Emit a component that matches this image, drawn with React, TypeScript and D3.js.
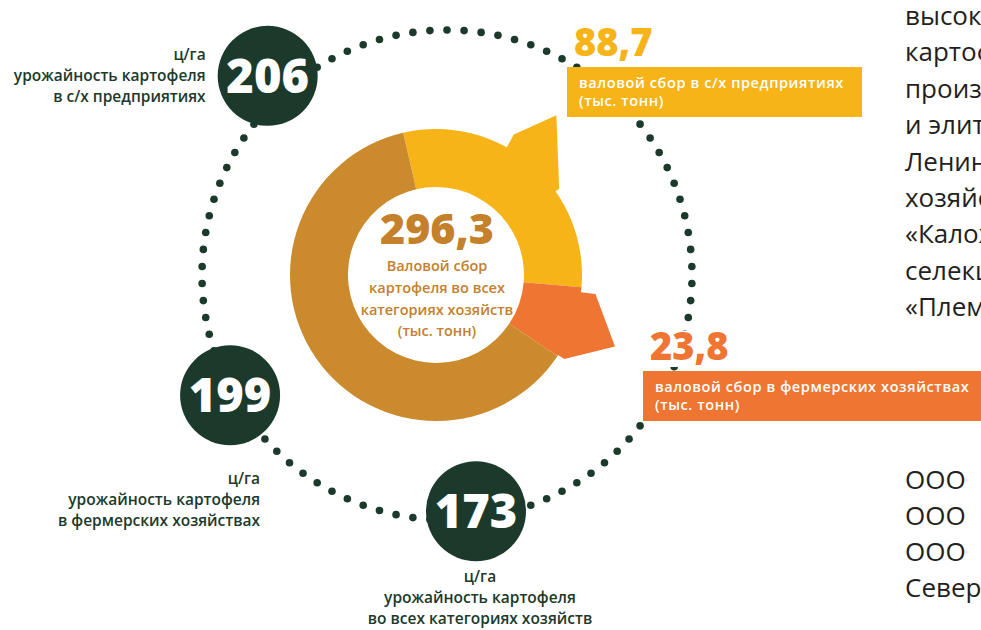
import * as d3 from "d3";

// gross harvest, thousand tonnes
const totalHarvest = 296.3;
const harvestNames = ["с/х предприятия", "фермерские хозяйства", "прочие хозяйства"];
const harvestValues = [88.7, 23.8, 183.8];
const harvestColors = ["#F6B419", "#EE7632", "#CB8A2D"];

// yield, c/ha
const yieldValues = [206, 199, 173];
const yieldCaptions = [
  ["ц/га", "урожайность картофеля", "в с/х предприятиях"],
  ["ц/га", "урожайность картофеля", "в фермерских хозяйствах"],
  ["ц/га", "урожайность картофеля", "во всех категориях хозяйств"],
];
// where each yield badge sits on the dotted ring (deg clockwise from top, radius)
const yieldAngles = [-42, 241, 173];
const yieldRadii = [268, 248, 238];

const calloutCaptions = [
  ["валовой сбор в с/х предприятиях", "(тыс. тонн)"],
  ["валовой сбор  в фермерских хозяйствах", "(тыс. тонн)"],
];
const centerCaption = ["Валовой сбор", "картофеля во всех", "категориях хозяйств", "(тыс. тонн)"];

const sideTextTop = [
  "высококачественного",
  "картофеля",
  "производства",
  "и элитных",
  "Ленинградской",
  "хозяйства",
  "«Каложицы»",
  "селекционная",
  "«Племенной",
];
const sideTextBottom = ["ООО", "ООО", "ООО", "Северо-Западный"];

const ru = d3.formatLocale({ decimal: ",", thousands: " ", grouping: [3], currency: ["", ""] });
const fmt1 = ru.format(".1f");

const darkGreen = "#1B3A2B";
const centerBrown = "#C4802A";
const font = "'Open Sans', sans-serif";

export default function App() {
  const width = 981;
  const height = 630;

  // donut
  const cx = 436;
  const cy = 275;
  const outerR = 146;
  const innerR = 88;
  const deg = Math.PI / 180;

  const pie = d3
    .pie<number>()
    .sort(null)
    .value((d) => d)
    .startAngle(-13 * deg)
    .endAngle(347 * deg);
  const arcs = pie(harvestValues);
  const arc = d3.arc<d3.PieArcDatum<number>>().innerRadius(innerR).outerRadius(outerR);

  const polar = (a: number, r: number) => [cx + r * Math.sin(a * deg), cy - r * Math.cos(a * deg)];

  // arrow heads as (angle offset from segment start, radius factor)
  const yStart = arcs[0].startAngle / deg;
  const oStart = arcs[1].startAngle / deg;
  const arrowHeads = [
    [
      [yStart + 42, 0.9],
      [yStart + 42, 1.1],
      [yStart + 50, 1.37],
      [yStart + 68, 1.03],
      [yStart + 68, 0.9],
    ],
    [
      [oStart + 2, 0.9],
      [oStart + 2, 1.1],
      [oStart + 17, 1.32],
      [oStart + 28.5, 1.05],
      [oStart + 28.5, 0.9],
    ],
  ];

  // dotted ring
  const ringX = 447;
  const ringY = 275;
  const ringR = 245;
  const dotCount = 90;
  const dots = d3.range(dotCount).map((i) => {
    const a = (i / dotCount) * 2 * Math.PI;
    return [ringX + ringR * Math.sin(a), ringY - ringR * Math.cos(a)];
  });

  const badgeR = 50;
  const badges = yieldValues.map((v, i) => ({
    value: v,
    x: ringX + yieldRadii[i] * Math.sin(yieldAngles[i] * deg),
    y: ringY - yieldRadii[i] * Math.cos(yieldAngles[i] * deg),
  }));

  // caption placement for each badge
  const captionPos = [
    { dx: -badgeR - 12, dy: -16, anchor: "end" },
    { dx: 30, dy: 89, anchor: "end" },
    { dx: 4, dy: 71, anchor: "middle" },
  ];

  const callouts = [
    { x: 567, y: 67, w: 295, color: harvestColors[0], value: harvestValues[0] },
    { x: 643, y: 371, w: 345, color: harvestColors[1], value: harvestValues[1] },
  ];

  return (
    <svg width={width} height={height} style={{ position: "absolute", left: 0, top: 0, background: "#fff" }}>
      <g>
        {dots.map((d, i) => (
          <circle key={i} cx={d[0]} cy={d[1]} r={3.8} fill={darkGreen} />
        ))}
      </g>

      <g transform={`translate(${cx},${cy})`}>
        {arcs.map((a, i) => (
          <path key={harvestNames[i]} d={arc(a) || ""} fill={harvestColors[i]} />
        ))}
      </g>
      {arrowHeads.map((pts, i) => (
        <polygon
          key={i}
          points={pts.map(([a, f]) => polar(a, f * outerR).join(",")).join(" ")}
          fill={harvestColors[i]}
        />
      ))}

      <g fontFamily={font} fill={centerBrown} textAnchor="middle">
        <text x={cx + 1} y={244} fontSize={43} fontWeight={800}>
          {fmt1(totalHarvest)}
        </text>
        {centerCaption.map((t, i) => (
          <text key={i} x={cx + 1} y={271 + i * 21.8} fontSize={14.5} fontWeight={600}>
            {t}
          </text>
        ))}
      </g>

      {badges.map((b, i) => (
        <g key={b.value}>
          <circle cx={b.x} cy={b.y} r={badgeR} fill={darkGreen} />
          <text
            x={b.x}
            y={b.y + 17}
            textAnchor="middle"
            fill="#fff"
            fontFamily={font}
            fontWeight={800}
            fontSize={47}
          >
            {b.value}
          </text>
          {yieldCaptions[i].map((t, j) => (
            <text
              key={j}
              x={b.x + captionPos[i].dx}
              y={b.y + captionPos[i].dy + j * 21}
              textAnchor={captionPos[i].anchor}
              fill={darkGreen}
              fontFamily={font}
              fontWeight={600}
              fontSize={15.5}
            >
              {t}
            </text>
          ))}
        </g>
      ))}

      {callouts.map((c, i) => (
        <g key={i} fontFamily={font}>
          <rect x={c.x} y={c.y - 40} width={95} height={36} fill="#fff" />
          <text x={c.x + 7} y={c.y - 11} fontSize={38} fontWeight={800} fill={c.color}>
            {fmt1(c.value)}
          </text>
          <rect x={c.x} y={c.y} width={c.w} height={50} fill={c.color} />
          {calloutCaptions[i].map((t, j) => (
            <text
              key={j}
              x={c.x + 12}
              y={c.y + 21 + j * 18}
              fontSize={14.5}
              fontWeight={600}
              letterSpacing={0.6}
              fill="#fff"
            >
              {t}
            </text>
          ))}
        </g>
      ))}

      <g fontFamily={font} fontSize={26} fill="#231F20">
        {sideTextTop.map((t, i) => (
          <text key={i} x={905} y={25 + i * 36.4}>
            {t}
          </text>
        ))}
        {sideTextBottom.map((t, i) => (
          <text key={i} x={905} y={489 + i * 36}>
            {t}
          </text>
        ))}
      </g>
    </svg>
  );
}
